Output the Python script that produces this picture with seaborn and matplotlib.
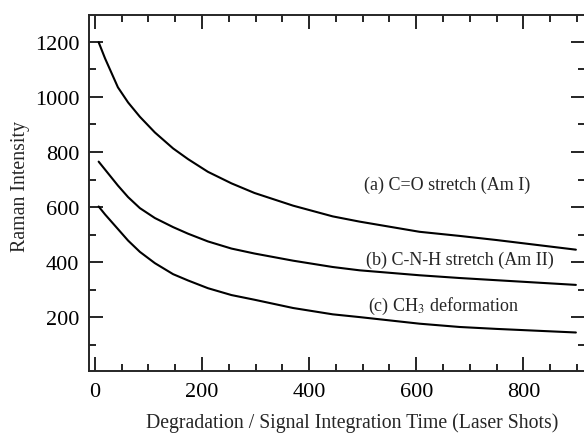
import matplotlib
matplotlib.use('Agg')
import matplotlib.pyplot as plt
from matplotlib.ticker import MultipleLocator
import seaborn as sns
import pandas as pd

# values
shots = [7, 19, 43, 62, 84, 112, 146, 174, 211, 255, 298, 370, 444, 494, 606, 681, 750, 898]
amide1 = [1199, 1140, 1035, 980, 928, 871, 813, 774, 728, 686, 651, 605, 566, 547, 510, 495, 480, 445]
amide2 = [765, 736, 678, 636, 596, 560, 527, 503, 475, 449, 431, 405, 382, 370, 352, 342, 334, 317]
ch3 = [602, 573, 520, 478, 437, 396, 356, 333, 305, 280, 263, 233, 210, 200, 176, 164, 157, 144]

labels = ["(a) C=O stretch (Am I)", "(b) C-N-H stretch (Am II)",
          "(c) CH$_3$ deformation"]
label_pos = [(502, 684), (507, 411), (509, 244)]

df = pd.DataFrame({"shots": shots * 3,
                   "intensity": amide1 + amide2 + ch3,
                   "band": ["a"] * len(shots) + ["b"] * len(shots) + ["c"] * len(shots)})

sns.set_style("ticks")
plt.rcParams['font.family'] = ['Liberation Serif', 'DejaVu Serif']
plt.rcParams['mathtext.fontset'] = 'stix'

fig = plt.figure(figsize=(5.84, 4.39), dpi=100)
ax = fig.add_axes([0.1524, 0.1526, 0.8493, 0.811])

sns.lineplot(data=df, x="shots", y="intensity", units="band", estimator=None,
             color="black", linewidth=1.5, ax=ax, legend=False)

for txt, (tx, ty) in zip(labels, label_pos):
    ax.text(tx, ty, txt, fontsize=13, va="center", ha="left")

ax.set_xlim(-11, 915)
ax.set_ylim(4, 1298)
ax.xaxis.set_major_locator(MultipleLocator(200))
ax.xaxis.set_minor_locator(MultipleLocator(50))
ax.yaxis.set_major_locator(MultipleLocator(200))
ax.yaxis.set_minor_locator(MultipleLocator(100))
ax.tick_params(which="both", direction="in", top=True, right=True,
               labelsize=16, width=1.2, pad=8, colors="black")
ax.tick_params(which="major", length=10)
ax.tick_params(which="minor", length=5)
ax.tick_params(axis="y", pad=7)
for s in ax.spines.values():
    s.set_linewidth(1.4)

ax.set_xlabel("Degradation / Signal Integration Time (Laser Shots)", fontsize=14.2)
ax.set_ylabel("Raman Intensity", fontsize=14.3)
ax.xaxis.set_label_coords(0.53, -0.117)
ax.yaxis.set_label_coords(-0.119, 0.52)

fig.savefig("out.png", dpi=100)
